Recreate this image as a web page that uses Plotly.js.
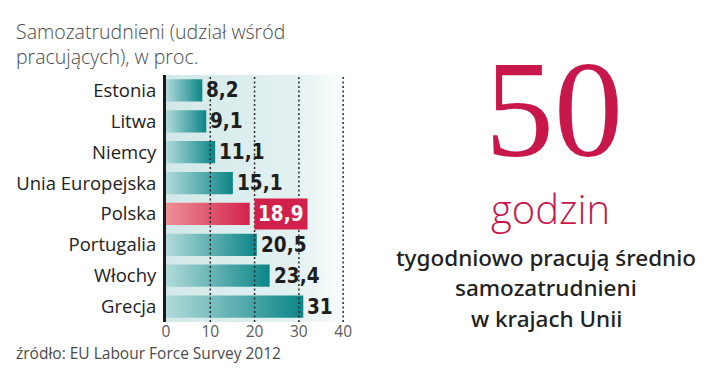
<!DOCTYPE html>
<html>
<head>
<meta charset="utf-8">
<script src="https://cdn.plot.ly/plotly-3.0.1.min.js"></script>
<style>
html,body{margin:0;padding:0;background:#fff;}
#chart{width:720px;height:376px;}
</style>
</head>
<body>
<div id="chart"></div>
<script>
// ---- data ----
const categories = ['Estonia', 'Litwa', 'Niemcy', 'Unia Europejska', 'Polska', 'Portugalia', 'Włochy', 'Grecja'];
const values = [8.2, 9.1, 11.1, 15.1, 18.9, 20.5, 23.4, 31];
const highlightCategory = 'Polska';
const xTickValues = [0, 10, 20, 30, 40];
const titleLines = ['Samozatrudnieni (udział wśród', 'pracujących), w proc.'];
const sourceText = 'źródło: EU Labour Force Survey 2012';
const bigNumber = '50';
const bigUnit = 'godzin';
const sideLines = ['tygodniowo pracują średnio', 'samozatrudnieni', 'w krajach Unii'];

// ---- layout geometry ----
const W = 720, H = 376;
const M = {l: 166, r: 368, t: 75, b: 54};
const PW = W - M.l - M.r, PH = H - M.t - M.b;
const XMAX = 42;
const px2x = px => (px - M.l) / PW;
const py2y = py => 1 - (py - M.t) / PH;
const half = 0.36;

const teal = [[0, '#b2dada'], [1, '#0b8588']];
const red = [[0, '#ee9098'], [1, '#d3224c']];
const crimson = '#c8174b';

const traces = [];
// background gradient panel
traces.push({
  type: 'scatter', mode: 'lines', x: [0, XMAX, XMAX, 0, 0],
  y: [-0.5, -0.5, categories.length - 0.5, categories.length - 0.5, -0.5],
  fill: 'toself', line: {width: 0},
  fillgradient: {type: 'horizontal', colorscale: [[0, '#d2e8e8'], [0.7, '#e4f1f1'], [1, '#ffffff']]},
  hoverinfo: 'skip', showlegend: false
});
categories.forEach((c, i) => {
  const v = values[i];
  traces.push({
    type: 'scatter', mode: 'lines',
    x: [0, v, v, 0, 0],
    y: [i - half, i - half, i + half, i + half, i - half],
    fill: 'toself', line: {width: 0},
    fillgradient: {type: 'horizontal', colorscale: c === highlightCategory ? red : teal},
    hoverinfo: 'skip', showlegend: false, name: c
  });
});

const fmt = v => String(v).replace('.', ',');
const annotations = [];
categories.forEach((c, i) => {
  const hl = c === highlightCategory;
  annotations.push({
    xref: 'x', yref: 'y', x: values[i], y: i, xanchor: 'left', yanchor: 'middle',
    xshift: hl ? 4 : 3, showarrow: false, text: fmt(values[i]),
    font: {family: 'DejaVu Sans Condensed, Liberation Sans Narrow, sans-serif', size: 20.5, weight: 700, color: hl ? '#ffffff' : '#1e1e1e'},
    bgcolor: hl ? '#d2204c' : 'rgba(0,0,0,0)', borderpad: hl ? 3 : 0
  });
});
// title
titleLines.forEach((t, k) => {
  annotations.push({
    xref: 'paper', yref: 'paper', x: px2x(14), y: py2y(31 + k * 25), xanchor: 'left', yanchor: 'middle',
    showarrow: false, text: t, font: {family: 'Open Sans, sans-serif', size: 19.5, weight: 300, color: '#4a4a4a'}
  });
});
annotations.push({
  xref: 'paper', yref: 'paper', x: px2x(14), y: py2y(353), xanchor: 'left', yanchor: 'middle',
  showarrow: false, text: sourceText, font: {family: 'Open Sans, sans-serif', size: 15.5, color: '#4a4a4a'}
});
annotations.push({
  xref: 'paper', yref: 'paper', x: px2x(554), y: py2y(109), xanchor: 'center', yanchor: 'middle',
  showarrow: false, text: bigNumber, font: {family: 'Liberation Serif, serif', size: 138, color: crimson}
});
annotations.push({
  xref: 'paper', yref: 'paper', x: px2x(550), y: py2y(208), xanchor: 'center', yanchor: 'middle',
  showarrow: false, text: bigUnit, font: {family: 'Open Sans, sans-serif', size: 40, weight: 300, color: crimson}
});
sideLines.forEach((t, k) => {
  annotations.push({
    xref: 'paper', yref: 'paper', x: px2x(546), y: py2y(257 + k * 30.5), xanchor: 'center', yanchor: 'middle',
    showarrow: false, text: t, font: {family: 'Noto Sans, Open Sans, sans-serif', size: 22.5, weight: 500, color: '#222222'}
  });
});

const shapes = xTickValues.filter(v => v > 0).map(v => ({
  type: 'line', xref: 'x', yref: 'paper', x0: v, x1: v, y0: 0, y1: 1, layer: 'above',
  line: {color: '#2a2a2a', width: 1.5, dash: '2px,2.5px'}
}));

const layout = {
  width: W, height: H, margin: M, paper_bgcolor: '#ffffff', plot_bgcolor: 'rgba(0,0,0,0)',
  showlegend: false,
  xaxis: {range: [0, XMAX], tickvals: xTickValues, ticktext: xTickValues.map(String), showgrid: false, zeroline: false,
    showline: false, ticks: '', ticklabelstandoff: -2, tickfont: {family: 'Open Sans, sans-serif', size: 15.5, color: '#5a5a5a'}, fixedrange: true},
  yaxis: {range: [categories.length - 0.5, -0.5], tickvals: categories.map((c, i) => i), ticktext: categories,
    showgrid: false, zeroline: false, showline: true, linecolor: '#1a1a1a', linewidth: 3, ticks: '',
    ticklabelstandoff: 3, tickfont: {family: 'Open Sans, sans-serif', size: 18.5, color: '#222222'}, fixedrange: true},
  annotations: annotations, shapes: shapes
};
Plotly.newPlot('chart', traces, layout, {displayModeBar: false, staticPlot: true});
</script>
</body>
</html>
